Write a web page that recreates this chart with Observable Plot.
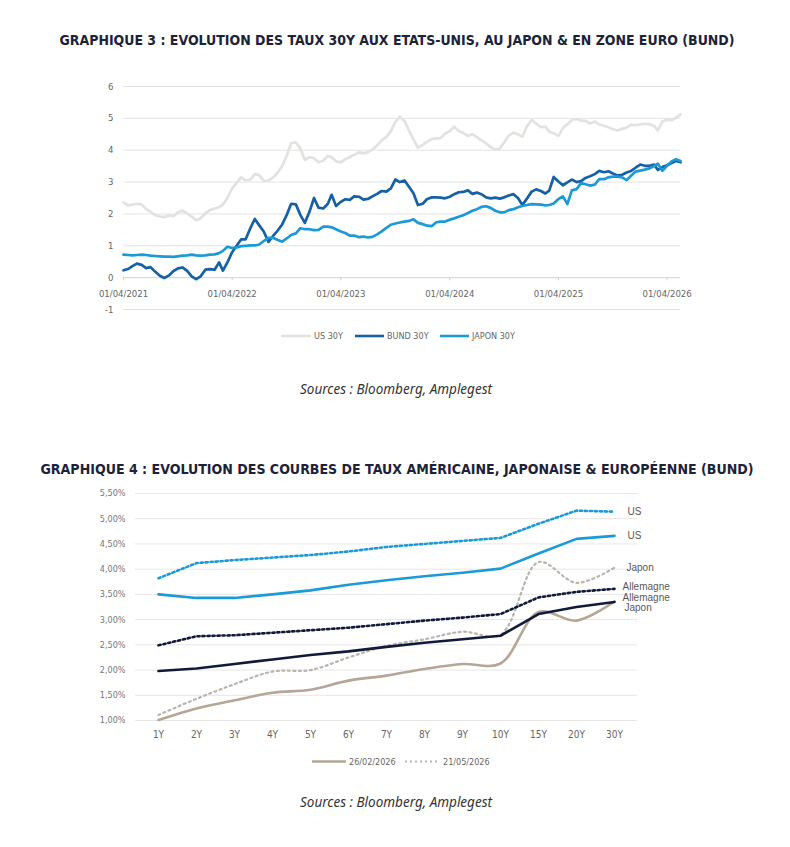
<!DOCTYPE html>
<html><head><meta charset="utf-8">
<script src="https://cdn.jsdelivr.net/npm/d3@7"></script>
<script src="https://cdn.jsdelivr.net/npm/@observablehq/plot@0.6"></script>
<style>
body{margin:0;background:#fff;width:790px;height:847px;position:relative;overflow:hidden;}
.abs{position:absolute;left:0;}
</style></head><body>
<script>
// ---------- DATA : chart 1 (30Y yields, half-monthly points from 01/04/2021) ----------
const start1 = "2021-04-01";
const series1 = ["US 30Y", "BUND 30Y", "JAPON 30Y"];
const colors1 = ["#e4e2df", "#1660a6", "#1b9ad7"];
const tickDates1 = ["2021-04-01","2022-04-01","2023-04-01","2024-04-01","2025-04-01","2026-04-01"];
const tickLabels1 = ["01/04/2021","01/04/2022","01/04/2023","01/04/2024","01/04/2025","01/04/2026"];
const yTicks1 = [-1,0,1,2,3,4,5,6];
const us30 = [2.36,2.27,2.29,2.32,2.30,2.15,2.07,1.96,1.92,1.90,
1.95,1.93,2.05,2.10,2.01,1.92,1.80,1.86,2.02,2.12,
2.17,2.21,2.30,2.50,2.80,2.98,3.15,3.05,3.08,3.25,
3.22,3.04,3.05,3.14,3.30,3.50,3.82,4.22,4.25,4.05,
3.70,3.78,3.75,3.62,3.67,3.82,3.78,3.65,3.62,3.72,
3.78,3.86,3.93,3.90,3.94,4.02,4.15,4.31,4.42,4.60,
4.88,5.05,4.92,4.62,4.33,4.08,4.17,4.27,4.35,4.37,
4.38,4.52,4.60,4.74,4.60,4.54,4.45,4.50,4.41,4.31,
4.22,4.10,4.02,4.05,4.25,4.46,4.55,4.50,4.42,4.75,
4.95,4.84,4.72,4.74,4.58,4.53,4.45,4.70,4.81,4.95,
4.98,4.93,4.92,4.84,4.90,4.81,4.77,4.72,4.66,4.62,
4.67,4.71,4.80,4.79,4.81,4.83,4.81,4.77,4.62,4.90,
4.96,4.94,5.02,5.12];
const bund30 = [0.23,0.27,0.36,0.44,0.40,0.30,0.33,0.19,0.06,-0.01,
0.07,0.21,0.29,0.32,0.21,0.04,-0.05,0.04,0.25,0.27,
0.25,0.48,0.22,0.48,0.80,1.00,1.20,1.20,1.55,1.84,
1.64,1.45,1.12,1.30,1.48,1.67,1.96,2.32,2.30,1.97,
1.72,2.05,2.50,2.20,2.17,2.31,2.60,2.25,2.38,2.46,
2.44,2.55,2.54,2.45,2.47,2.55,2.63,2.72,2.70,2.80,
3.08,3.00,3.05,2.85,2.65,2.28,2.32,2.47,2.52,2.52,
2.51,2.49,2.54,2.62,2.68,2.69,2.74,2.63,2.67,2.62,
2.52,2.49,2.51,2.48,2.52,2.58,2.62,2.50,2.28,2.48,
2.70,2.77,2.72,2.64,2.73,3.16,3.02,2.90,2.99,3.08,
3.00,3.03,3.13,3.18,3.25,3.35,3.31,3.34,3.27,3.21,
3.23,3.30,3.35,3.45,3.55,3.51,3.51,3.55,3.38,3.47,
3.53,3.60,3.66,3.62];
const japon30 = [0.72,0.71,0.70,0.71,0.72,0.71,0.69,0.68,0.67,0.66,
0.66,0.65,0.67,0.69,0.70,0.72,0.70,0.69,0.70,0.72,
0.73,0.77,0.84,0.97,0.93,0.95,0.99,1.00,1.01,1.01,
1.04,1.15,1.25,1.25,1.18,1.13,1.23,1.34,1.39,1.55,
1.52,1.52,1.49,1.50,1.60,1.60,1.58,1.52,1.45,1.40,
1.32,1.32,1.27,1.29,1.26,1.28,1.36,1.45,1.56,1.66,
1.70,1.73,1.76,1.78,1.83,1.72,1.68,1.63,1.62,1.74,
1.76,1.76,1.82,1.86,1.91,1.96,2.03,2.10,2.15,2.22,
2.24,2.19,2.10,2.05,2.05,2.12,2.15,2.21,2.25,2.28,
2.31,2.30,2.29,2.27,2.28,2.33,2.47,2.55,2.31,2.74,
2.78,2.97,2.93,2.89,2.92,3.09,3.09,3.15,3.17,3.17,
3.15,3.06,3.20,3.33,3.36,3.39,3.43,3.50,3.58,3.35,
3.51,3.65,3.72,3.66];

// ---------- DATA : chart 2 (yield curves) ----------
const maturities = ["1Y","2Y","3Y","4Y","5Y","6Y","7Y","8Y","9Y","10Y","15Y","20Y","30Y"];
const curveDates = ["26/02/2026","21/05/2026"];
const yTicks2 = [1,1.5,2,2.5,3,3.5,4,4.5,5,5.5];
const usFeb = [3.50,3.43,3.43,3.50,3.58,3.69,3.78,3.86,3.93,4.01,4.31,4.60,4.66];
const usMay = [3.82,4.12,4.18,4.23,4.28,4.35,4.44,4.50,4.56,4.62,4.90,5.16,5.14];
const deFeb = [1.98,2.03,2.12,2.21,2.30,2.37,2.46,2.54,2.61,2.68,3.11,3.25,3.35];
const deMay = [2.49,2.67,2.69,2.74,2.79,2.84,2.91,2.98,3.04,3.11,3.44,3.55,3.61];
const jpFeb = [1.01,1.24,1.40,1.55,1.61,1.79,1.89,2.02,2.12,2.13,3.15,2.98,3.36];
const jpMay = [1.11,1.43,1.72,1.97,2.00,2.25,2.48,2.61,2.76,2.70,4.14,3.73,4.03];

// ---------- RENDER ----------
const COND = '"DejaVu Sans Condensed", "DejaVu Sans", sans-serif';
const body = document.body;
function addSvgText(top, h, inner){
  const div = document.createElement("div");
  div.className = "abs"; div.style.top = top + "px";
  div.innerHTML = `<svg width="790" height="${h}" xmlns="http://www.w3.org/2000/svg">${inner}</svg>`;
  body.appendChild(div);
}
function title(baseline, text, len){
  addSvgText(baseline - 18, 26, `<text x="397" y="18" text-anchor="middle" textLength="${len}" lengthAdjust="spacingAndGlyphs" font-family='${COND}' font-stretch="condensed" font-weight="bold" font-size="14" fill="#1c2237">${text}</text>`);
}
function source(baseline){
  addSvgText(baseline - 16, 22, `<text x="396" y="16" text-anchor="middle" font-family="'Noto Sans', sans-serif" font-style="italic" font-size="13.5" fill="#333">Sources : Bloomberg, Amplegest</text>`);
}

// Chart 1
title(45, "GRAPHIQUE 3 : EVOLUTION DES TAUX 30Y AUX ETATS-UNIS, AU JAPON &amp; EN ZONE EURO (BUND)", 675);

const t0 = new Date(start1 + "T00:00:00Z");
const dateAt = i => { const d = d3.utcMonth.offset(t0, Math.floor(i / 2)); return i % 2 ? d3.utcDay.offset(d, 15) : d; };
const rows1 = [];
[us30, bund30, japon30].forEach((arr, k) => arr.forEach((v, i) => rows1.push({series: series1[k], date: dateAt(i), v})));
const ticks1 = tickDates1.map(s => new Date(s + "T00:00:00Z"));

const p1 = Plot.plot({
  width: 790, height: 270,
  marginLeft: 123, marginRight: 110, marginTop: 26, marginBottom: 21,
  x: {type: "utc", domain: [t0, dateAt(us30.length - 1)], axis: null, label: null},
  y: {domain: [-1, 6], axis: null, label: null},
  color: {domain: series1, range: colors1},
  style: {fontFamily: COND, background: "transparent", overflow: "visible"},
  marks: [
    Plot.gridY(yTicks1, {stroke: "#e3e3e3", strokeOpacity: 1}),
    Plot.axisY(yTicks1, {tickSize: 0, tickPadding: 10, fill: "#666", fontSize: 9.5, label: null, tickFormat: d => String(d)}),
    Plot.ruleY([0], {stroke: "#d9d9d9"}),
    Plot.ruleX(ticks1, {x: d => d, y1: 0, y2: -0.1, stroke: "#cfcfcf"}),
    Plot.text(ticks1, {x: d => d, y: () => 0, dy: 16, text: (d, i) => tickLabels1[i], fill: "#666", fontSize: 9.5}),
    Plot.lineY(rows1, {x: "date", y: "v", z: "series", stroke: "series", strokeWidth: 2.7})
  ]
});
const d1 = document.createElement("div"); d1.className = "abs"; d1.style.top = "60px"; d1.appendChild(p1); body.appendChild(d1);

// Legend 1
const leg1 = [[281, 311, 314], [355, 384, 387], [440, 469, 472]];
addSvgText(326, 20, series1.map((s, k) =>
  `<line x1="${leg1[k][0]}" x2="${leg1[k][1]}" y1="10" y2="10" stroke="${colors1[k]}" stroke-width="2.6"/>` +
  `<text x="${leg1[k][2]}" y="13.3" font-family='${COND}' font-stretch="condensed" font-size="9" fill="#666">${s}</text>`).join(""));

source(394);

// Chart 2
title(474, "GRAPHIQUE 4 : EVOLUTION DES COURBES DE TAUX AMÉRICAINE, JAPONAISE &amp; EUROPÉENNE (BUND)", 713);

const curves = [
  {name: "usFeb", vals: usFeb, color: "#1b9ad7", dash: null, width: 2.6, curve: "linear", label: "US", dx: 13, dy: 0},
  {name: "usMay", vals: usMay, color: "#1b9ad7", dash: "2.2,2.8", width: 2.6, curve: "linear", label: "US", dx: 13, dy: 0},
  {name: "deFeb", vals: deFeb, color: "#111a3a", dash: null, width: 2.6, curve: "linear", label: "Allemagne", dx: 8, dy: -4.5},
  {name: "deMay", vals: deMay, color: "#111a3a", dash: "2.2,2.8", width: 2.6, curve: "linear", label: "Allemagne", dx: 8, dy: -2},
  {name: "jpFeb", vals: jpFeb, color: "#b5a696", dash: null, width: 2.6, curve: "catmull-rom", label: "Japon", dx: 10, dy: 6.5},
  {name: "jpMay", vals: jpMay, color: "#b9b4ae", dash: "2,3.5", width: 2.2, curve: "catmull-rom", label: "Japon", dx: 12, dy: 0}
];
const order = ["jpMay", "jpFeb", "deMay", "deFeb", "usMay", "usFeb"];
const marks2 = [
  Plot.gridY(yTicks2, {stroke: "#e6e6e6", strokeOpacity: 1}),
  Plot.axisY(yTicks2, {tickSize: 0, tickPadding: 10, fill: "#777", fontSize: 9, label: null, tickFormat: d => d.toFixed(2).replace(".", ",") + "%"}),
  Plot.axisX({tickSize: 0, tickPadding: 10, fill: "#666", fontSize: 10, label: null})
];
order.forEach(n => {
  const c = curves.find(c => c.name === n);
  const rows = c.vals.map((v, i) => ({m: maturities[i], v}));
  marks2.push(Plot.line(rows, {x: "m", y: "v", stroke: c.color, strokeWidth: c.width, strokeDasharray: c.dash, curve: c.curve}));
});
curves.forEach(c => {
  const last = [{m: maturities[maturities.length - 1], v: c.vals[c.vals.length - 1]}];
  marks2.push(Plot.text(last, {x: "m", y: "v", text: () => c.label, dx: c.dx, dy: c.dy, textAnchor: "start", fill: "#595959", fontSize: 10, fontFamily: "'Liberation Sans', Arial, sans-serif"}));
});
const p2 = Plot.plot({
  width: 790, height: 275,
  marginLeft: 135, marginRight: 153, marginTop: 13, marginBottom: 35,
  x: {type: "point", domain: maturities, padding: 0.5, label: null},
  y: {domain: [1, 5.5], label: null},
  style: {fontFamily: COND, background: "transparent", overflow: "visible"},
  marks: marks2
});
const d2 = document.createElement("div"); d2.className = "abs"; d2.style.top = "480px"; d2.appendChild(p2); body.appendChild(d2);

// Legend 2
addSvgText(751, 20,
  `<line x1="312" x2="346" y1="10.5" y2="10.5" stroke="#b5a696" stroke-width="2.6"/>` +
  `<text x="349" y="13.8" font-family='${COND}' font-stretch="condensed" font-size="9" fill="#666">${curveDates[0]}</text>` +
  `<line x1="405" x2="440" y1="10.5" y2="10.5" stroke="#b9b4ae" stroke-width="2" stroke-dasharray="2,3"/>` +
  `<text x="443" y="13.8" font-family='${COND}' font-stretch="condensed" font-size="9" fill="#666">${curveDates[1]}</text>`);

source(807);
</script>
</body></html>
